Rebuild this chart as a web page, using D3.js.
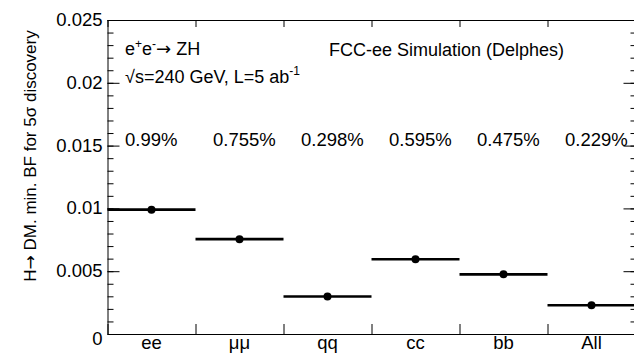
<!DOCTYPE html>
<html>
<head>
<meta charset="utf-8">
<script src="https://cdn.jsdelivr.net/npm/d3@7"></script>
<style>
  body { margin: 0; background: #fff; }
  svg { display: block; font-family: "Liberation Sans", Arial, sans-serif; }
  .axis path, .axis line { stroke: #000; stroke-width: 1; }
  .axis text { font-family: "Liberation Sans", Arial, sans-serif; fill: #000; }
  .arrow { font-family: "DejaVu Sans", sans-serif; }
</style>
</head>
<body>
<div id="graph"></div>
<script>
// chart data
const categories = ["ee", "\u03bc\u03bc", "qq", "cc", "bb", "All"];
const minBF = [0.0099, 0.00755, 0.00298, 0.00595, 0.00475, 0.00229];
const pctLabels = ["0.99%", "0.755%", "0.298%", "0.595%", "0.475%", "0.229%"];
const yMajor = [0, 0.005, 0.01, 0.015, 0.02, 0.025];
const yTickLabels = ["0", "0.005", "0.01", "0.015", "0.02", "0.025"];

const width = 634;
const height = 353;
const margins = {top: 20, bottom: 19, left: 107.5, right: -1.5};

var svg = d3.select("#graph").append("svg")
    .attr("width", width).attr("height", height);

var x = d3.scaleBand()
    .domain(categories)
    .range([margins.left, width - margins.right]);
var xEdge = d3.scaleLinear()
    .domain([0, categories.length])
    .range([margins.left, width - margins.right]);
var y = d3.scaleLinear()
    .domain([0, 0.025])
    .range([height - margins.bottom, margins.top]);

var yMinor = d3.range(0, 26).map(function (i) { return i * 0.001; });
var edges = d3.range(0, categories.length + 1);

// left axis
var leftAxis = svg.append("g").attr("class", "axis")
    .attr("transform", "translate(" + margins.left + ",0)");
leftAxis.call(d3.axisLeft(y).tickValues(yMinor).tickSize(-6).tickSizeOuter(0).tickFormat(""));
leftAxis.append("g").call(d3.axisLeft(y).tickValues(yMajor).tickSize(-12).tickSizeOuter(0).tickPadding(5)
    .tickFormat(function (d, i) { return yTickLabels[i]; }))
    .call(function (g) { g.select(".domain").remove(); })
    .selectAll("text")
    .attr("font-size", 18.5)
    .attr("dy", function (d) { return d === 0 ? "0.55em" : "0.3em"; });

// right axis (ticks only)
var rightAxis = svg.append("g").attr("class", "axis")
    .attr("transform", "translate(" + (width - margins.right) + ",0)");
rightAxis.call(d3.axisRight(y).tickValues(yMinor).tickSize(-5).tickSizeOuter(0).tickFormat(""));
rightAxis.append("g").call(d3.axisRight(y).tickValues(yMajor).tickSize(-12).tickSizeOuter(0).tickFormat(""))
    .select(".domain").remove();

// bottom axis
var bottomAxis = svg.append("g").attr("class", "axis")
    .attr("transform", "translate(0," + (height - margins.bottom) + ")");
bottomAxis.call(d3.axisBottom(xEdge).tickValues(edges).tickSize(-10).tickSizeOuter(0).tickFormat(""));
bottomAxis.append("g").call(d3.axisBottom(x).tickSize(0).tickPadding(4))
    .call(function (g) { g.select(".domain").remove(); })
    .selectAll("text")
    .attr("font-size", 18.5)
    .attr("dy", "0.62em");

// top axis
var topAxis = svg.append("g").attr("class", "axis")
    .attr("transform", "translate(0," + margins.top + ")");
topAxis.call(d3.axisTop(xEdge).tickValues(edges).tickSize(-7).tickSizeOuter(0).tickFormat(""));

// points with bin-width error bars
var pts = svg.append("g")
    .selectAll(".pt")
    .data(categories)
    .enter()
    .append("g")
    .attr("class", "pt");

pts.append("line")
    .attr("x1", function (d) { return x(d); })
    .attr("x2", function (d) { return x(d) + x.bandwidth(); })
    .attr("y1", function (d, i) { return y(minBF[i]); })
    .attr("y2", function (d, i) { return y(minBF[i]); })
    .attr("stroke", "#000")
    .attr("stroke-width", 2.6);

pts.append("circle")
    .attr("cx", function (d) { return x(d) + x.bandwidth() / 2; })
    .attr("cy", function (d, i) { return y(minBF[i]); })
    .attr("r", 4)
    .attr("fill", "#000");

// percentage labels, left aligned in each bin
svg.append("g")
    .selectAll(".pct")
    .data(categories)
    .enter()
    .append("text")
    .attr("class", "pct")
    .attr("x", function (d) { return x(d) + 17.5; })
    .attr("y", y(0.0150))
    .attr("font-size", 18.5)
    .text(function (d, i) { return pctLabels[i]; });

// y axis title
var yt = svg.append("text")
    .attr("transform", "translate(36," + 156 + ") rotate(-90)")
    .attr("text-anchor", "middle")
    .attr("font-size", 17);
yt.append("tspan").text("H");
yt.append("tspan").attr("class", "arrow").attr("font-size", 17).text("\u2192");
yt.append("tspan").text(" DM. min. BF for 5\u03c3 discovery");

// header texts
var t1 = svg.append("text").attr("x", 125).attr("y", 55).attr("font-size", 18);
t1.append("tspan").text("e");
t1.append("tspan").attr("dy", -7).attr("font-size", 12).text("+");
t1.append("tspan").attr("dy", 7).text("e");
t1.append("tspan").attr("dy", -7).attr("font-size", 12).text("-");
t1.append("tspan").attr("dy", 7).attr("class", "arrow").text("\u2192");
t1.append("tspan").text(" ZH");

var t2 = svg.append("text").attr("x", 125).attr("y", 83).attr("font-size", 18);
t2.append("tspan").text("\u221as=240 GeV, L=5 ab");
t2.append("tspan").attr("dy", -8).attr("font-size", 12).text("-1");

svg.append("text")
    .attr("x", 329).attr("y", 56)
    .attr("font-size", 18)
    .text("FCC-ee Simulation (Delphes)");
</script>
</body>
</html>
